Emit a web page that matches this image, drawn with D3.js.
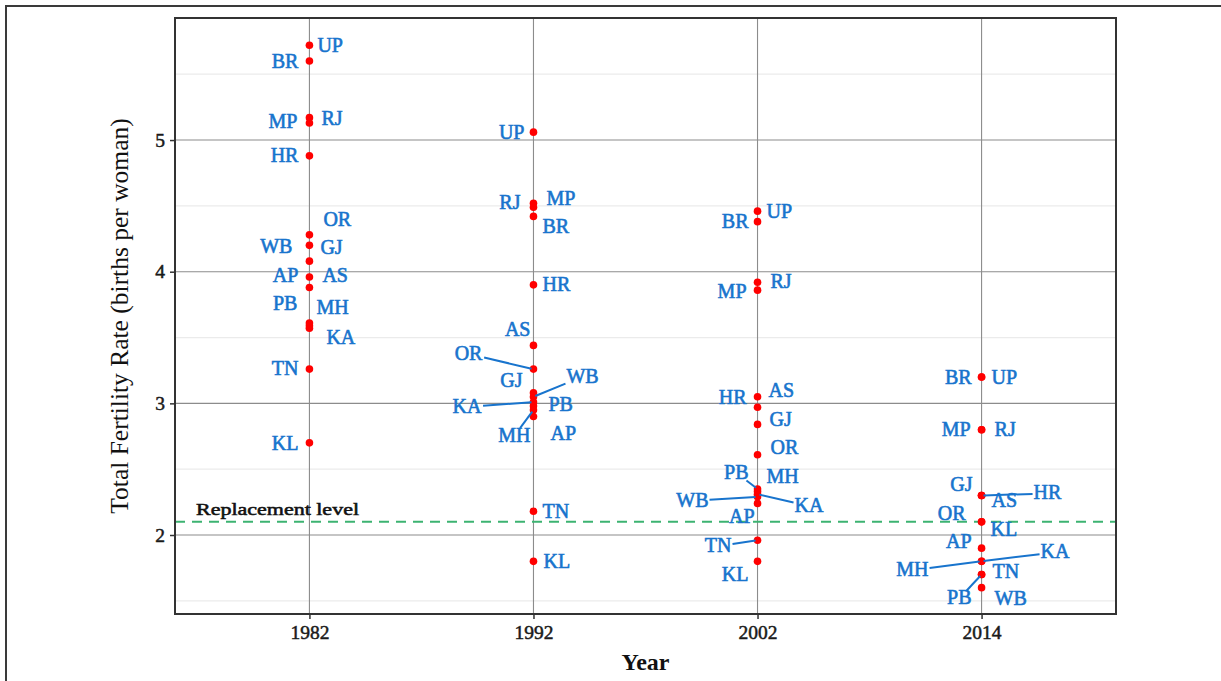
<!DOCTYPE html>
<html><head><meta charset="utf-8">
<script src="https://cdn.jsdelivr.net/npm/d3@7"></script>
<style>body{margin:0;background:#fff} svg{display:block}</style>
</head><body><svg id="c" width="1221" height="681"></svg>
<script>
// ---------- data ----------
const years = ["1982", "1992", "2002", "2014"];
const states = ["UP","BR","MP","RJ","HR","OR","WB","GJ","AP","AS","PB","MH","KA","TN","KL"];
const tfr1982 = [5.72,5.60,5.13,5.17,4.88,4.28,4.20,4.08,3.96,3.88,3.61,3.59,3.57,3.26,2.70];
const tfr1992 = [5.06,4.42,4.49,4.52,3.90,3.26,3.05,3.08,2.90,3.44,2.98,2.95,3.01,2.18,1.80];
const tfr2002 = [4.46,4.38,3.86,3.92,3.05,2.61,2.29,2.84,2.24,2.97,2.35,2.33,2.31,1.96,1.80];
const tfr2014 = [3.2,3.2,2.8,2.8,2.3,2.1,1.6,2.3,1.9,2.3,1.7,1.8,1.8,1.7,2.1];
const replacementLevel = 2.1;
const replacementText = "Replacement level";
const yTicks = [2, 3, 4, 5];
const yMinorTicks = [1.5, 2.5, 3.5, 4.5, 5.5];
const xTitle = "Year";
const yTitle = "Total Fertility Rate (births per woman)";

// ---------- label layout (repel result: anchor, dx px, dy px, draw segment) ----------
const labelLayout = {
  "1982": [["s",8,0],["e",-11,0],["e",-12,-2],["s",12,1],["e",-11,-1],["s",14,-16],["e",-17,1],["s",11,-14],["e",-11,-2],["s",13,-12],["e",-12,-20],["s",7,-18],["s",17,9],["e",-11,-1],["e",-11,0]],
  "1992": [["e",-9,0],["s",9,10],["s",13,-9],["e",-13,-1],["s",9,-1],["e",-51,-16,1],["s",33,-21,1],["e",-11,-13],["s",17,17],["e",-3,-16],["s",15,-2],["e",-3,25,1],["e",-52,4,1],["s",9,0],["s",10,0]],
  "2002": [["s",9,0],["e",-9,0],["e",-11,1],["s",13,-1],["e",-11,0],["s",13,-7],["e",-49,3,1],["s",12,-5],["e",-3,13],["s",11,-17],["e",-9,-17,1],["s",9,-15],["s",37,11,1],["e",-26,5,1],["e",-9,13]],
  "2014": [["s",10,0],["e",-10,0],["e",-11,0],["s",13,0],["s",52,-3,1],["e",-16,-9],["s",13,11],["e",-9,-11],["e",-10,-7],["s",10,5],["e",-10,23,1],["e",-53,8,1],["s",59,-10,1],["s",11,-3],["s",9,7]]
};

const series = {"1982": tfr1982, "1992": tfr1992, "2002": tfr2002, "2014": tfr2014};
const points = [];
years.forEach(yr => states.forEach((s, i) => points.push({year: yr, state: s, value: series[yr][i], lay: labelLayout[yr][i]})));

// ---------- chart ----------
const P = {left: 175, right: 1116, top: 18, bottom: 614};
const svg = d3.select("#c");
const serif = "'Liberation Serif', 'DejaVu Serif', serif";
const blue = "#1874cd";

// outer frame
svg.append("rect").attr("x", 6).attr("y", 6).attr("width", 1400).attr("height", 900)
  .attr("fill", "none").attr("stroke", "#3a3a3a").attr("stroke-width", 2);

const x = d3.scalePoint().domain(years).range([P.left, P.right]).padding(0.6);
const y = d3.scaleLinear().domain([1.4, 5.927]).range([P.bottom, P.top]);

const g = svg.append("g");
g.selectAll(".ymin").data(yMinorTicks).join("line")
  .attr("x1", P.left).attr("x2", P.right).attr("y1", d => y(d)).attr("y2", d => y(d))
  .attr("stroke", "#ebebeb").attr("stroke-width", 1.2);
g.selectAll(".ymaj").data(yTicks).join("line")
  .attr("x1", P.left).attr("x2", P.right).attr("y1", d => y(d)).attr("y2", d => y(d))
  .attr("stroke", "#8c8c8c").attr("stroke-width", 1.1);
g.selectAll(".xmaj").data(years).join("line")
  .attr("x1", d => x(d)).attr("x2", d => x(d)).attr("y1", P.top).attr("y2", P.bottom)
  .attr("stroke", "#8c8c8c").attr("stroke-width", 1.1);

// replacement line
g.append("line").attr("x1", P.left).attr("x2", P.right)
  .attr("y1", y(replacementLevel)).attr("y2", y(replacementLevel))
  .attr("stroke", "#3cb371").attr("stroke-width", 2).attr("stroke-dasharray", "10,7");
g.append("text").attr("x", 196).attr("y", y(replacementLevel) - 13).attr("dy", "0.35em")
  .attr("font-family", serif).attr("font-size", 17.5)
  .attr("fill", "#111").attr("stroke", "#111").attr("stroke-width", 0.55)
  .attr("textLength", 163).attr("lengthAdjust", "spacingAndGlyphs")
  .text(replacementText);

// dots
g.selectAll(".dot").data(points).join("circle")
  .attr("cx", d => x(d.year)).attr("cy", d => y(d.value)).attr("r", 3.8).attr("fill", "#ff0000");

// labels
const segG = g.append("g");
const labG = g.append("g");
const labels = labG.selectAll("text").data(points).join("text")
  .attr("x", d => x(d.year) + d.lay[1])
  .attr("y", d => y(d.value) + d.lay[2])
  .attr("dy", "0.34em")
  .attr("text-anchor", d => d.lay[0] === "s" ? "start" : "end")
  .attr("font-family", serif).attr("font-size", 20)
  .attr("fill", blue).attr("stroke", blue).attr("stroke-width", 0.6)
  .text(d => d.state);

// segments: from point toward label centre, clipped at the label box
labels.each(function(d) {
  if (!d.lay[3]) return;
  const b = this.getBBox();
  const px = x(d.year), py = y(d.value);
  const x0 = b.x - 1, x1 = b.x + b.width + 1, y0 = b.y + b.height * 0.2, y1 = b.y + b.height * 0.9;
  const cx = (x0 + x1) / 2, cy = (y0 + y1) / 2;
  const dx = cx - px, dy = cy - py;
  let t = 1;
  if (dx !== 0) { const tx = dx > 0 ? (x0 - px) / dx : (x1 - px) / dx; if (tx > 0) t = Math.min(t, Math.max(tx, 0)); }
  let tyv = 1;
  if (dy !== 0) { tyv = dy > 0 ? (y0 - py) / dy : (y1 - py) / dy; }
  // entry point into box = max of entry params
  const tx = dx !== 0 ? (dx > 0 ? (x0 - px) / dx : (x1 - px) / dx) : -Infinity;
  const ty = dy !== 0 ? (dy > 0 ? (y0 - py) / dy : (y1 - py) / dy) : -Infinity;
  t = Math.max(tx, ty);
  const ex = px + dx * t, ey = py + dy * t;
  const len = Math.hypot(dx, dy);
  const sx = px + dx / len * 2, sy = py + dy / len * 2;
  segG.append("line").attr("x1", sx).attr("y1", sy).attr("x2", ex).attr("y2", ey)
    .attr("stroke", blue).attr("stroke-width", 2);
});

// panel border
svg.append("rect").attr("x", P.left).attr("y", P.top).attr("width", P.right - P.left).attr("height", P.bottom - P.top)
  .attr("fill", "none").attr("stroke", "#333").attr("stroke-width", 2);

// axes
const yAxis = svg.append("g").attr("transform", `translate(${P.left},0)`)
  .call(d3.axisLeft(y).tickValues(yTicks).tickFormat(d3.format("d")).tickSize(5).tickPadding(5));
const xAxis = svg.append("g").attr("transform", `translate(0,${P.bottom})`)
  .call(d3.axisBottom(x).tickSize(5).tickPadding(6));
[yAxis, xAxis].forEach(a => {
  a.select(".domain").remove();
  a.selectAll(".tick line").attr("stroke", "#333").attr("stroke-width", 1.5);
  a.selectAll(".tick text").attr("font-family", serif).attr("font-size", 19.5)
    .attr("fill", "#1a1a1a").attr("stroke", "#1a1a1a").attr("stroke-width", 0.5);
});

svg.append("text").attr("x", (P.left + P.right) / 2).attr("y", 670)
  .attr("text-anchor", "middle").attr("font-family", serif).attr("font-weight", "bold")
  .attr("font-size", 24).attr("fill", "#111").text(xTitle);
svg.append("text").attr("transform", `translate(128,${(P.top + P.bottom) / 2}) rotate(-90)`)
  .attr("text-anchor", "middle").attr("font-family", serif)
  .attr("font-size", 25.5).attr("fill", "#111").text(yTitle);
</script></body></html>
